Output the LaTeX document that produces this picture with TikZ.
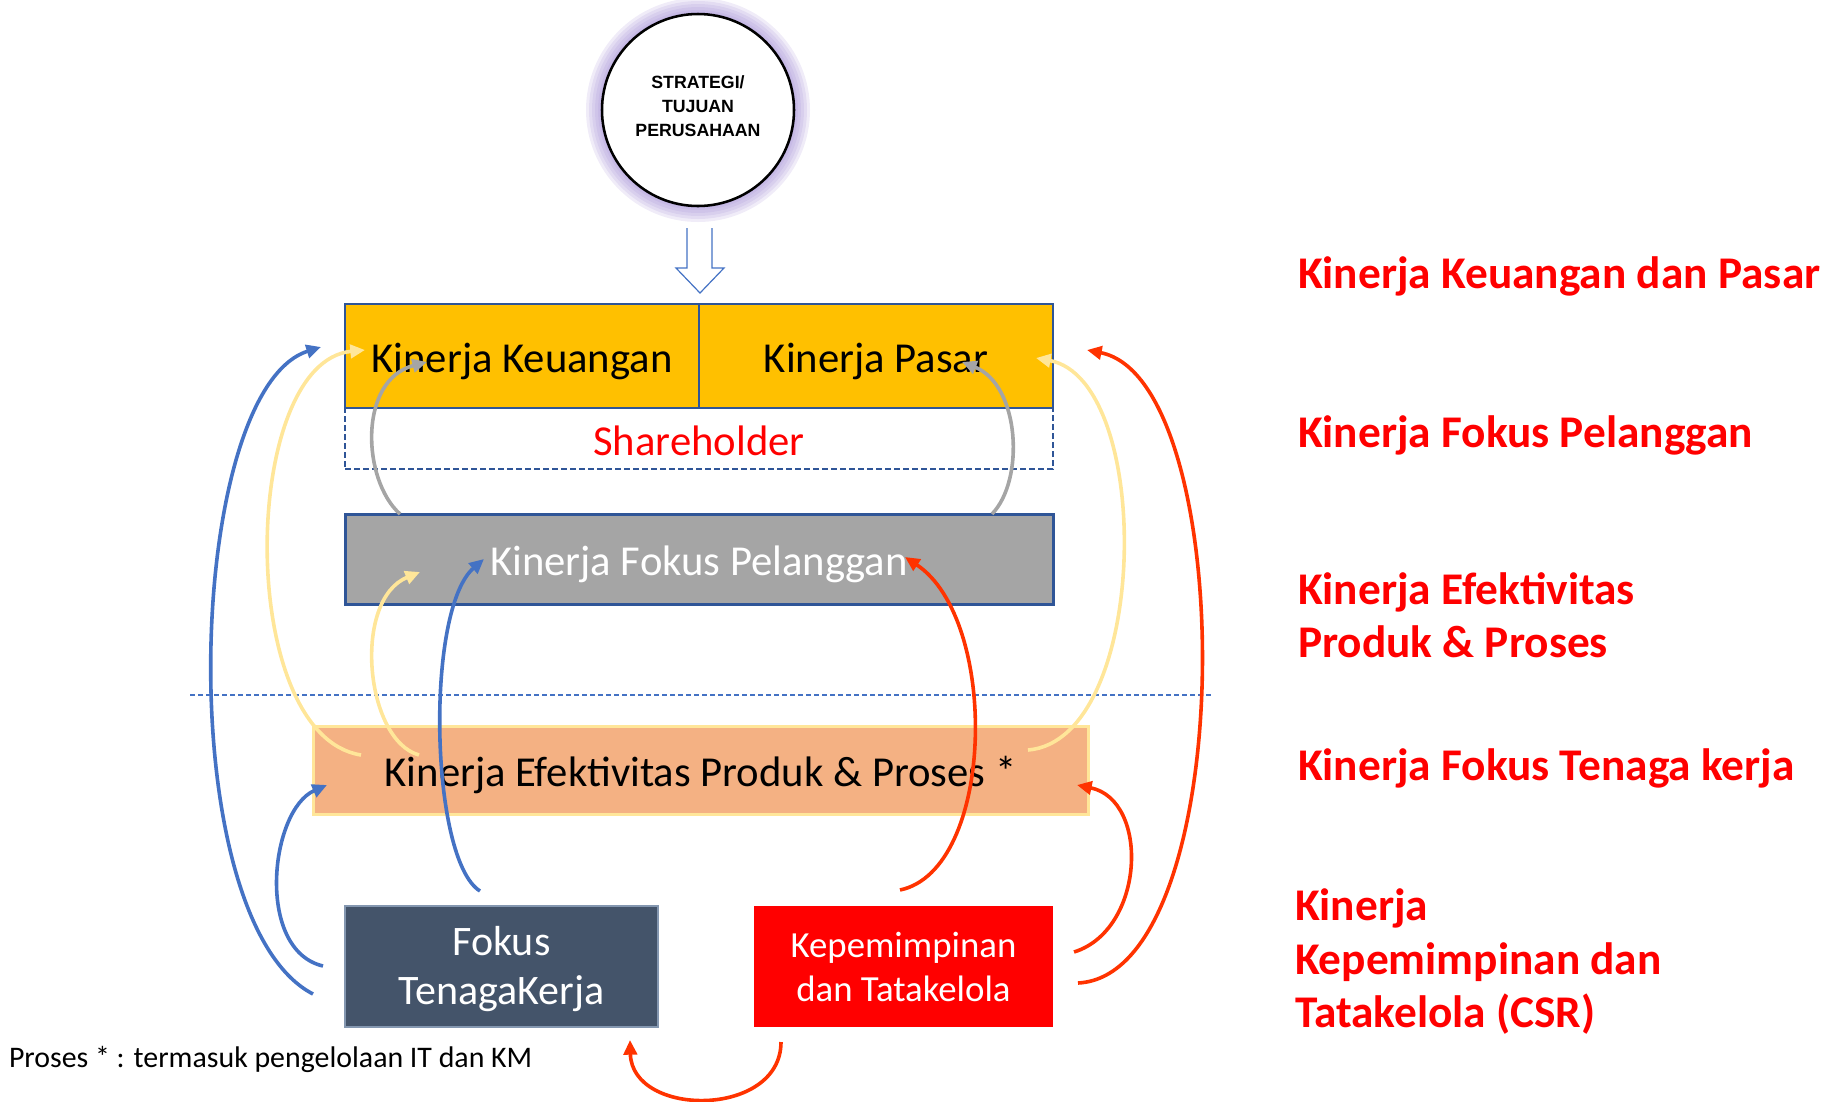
\documentclass[tikz,border=0pt]{standalone}
\usepackage{fontspec}
\setmainfont{Carlito}
\newfontfamily\arialf{Liberation Sans}
\usetikzlibrary{arrows.meta}
\definecolor{bblue}{HTML}{2F5597}
\definecolor{ablue}{HTML}{4472C4}
\definecolor{ayel}{HTML}{FFE699}
\definecolor{agray}{HTML}{A5A5A5}
\definecolor{ared}{HTML}{FF3300}
\definecolor{gold}{HTML}{FFC000}
\definecolor{orng}{HTML}{F4B183}
\definecolor{fokf}{HTML}{44546A}
\definecolor{fokb}{HTML}{8497B0}
\definecolor{glowc}{HTML}{A48FD6}
\definecolor{pured}{HTML}{FF0000}
\begin{document}
\begin{tikzpicture}[x=0.75pt,y=-0.75pt,
  every node/.style={inner sep=0pt, outer sep=0pt},
  bigtxt/.style={font=\fontsize{32}{38}\selectfont, text height=27.5pt, text depth=2.6pt},
  lab/.style={anchor=base west, text=pured, font=\bfseries\fontsize{34}{40}\selectfont},
  arr/.style={line width=2.7pt, -{Triangle[length=11pt,width=10pt]}},
  topbox/.style={draw=bblue, line width=1.5pt, fill=gold, minimum width=265.5pt, minimum height=78pt, bigtxt},
]
\useasboundingbox (0,0) rectangle (1829,1101);

% glow and circle
\foreach \r in {112,109,106,103,100,98}
  \fill[glowc, opacity=0.17] (698,110) circle[radius=\r];
\node[circle, draw=black, line width=1.9pt, fill=white, minimum size=144pt, align=center,
      text height=40.3pt, text depth=0pt,
      font=\arialf\bfseries\fontsize{13.3}{18.3}\selectfont] (st) at (698,110) {STRATEGI/\\TUJUAN\\PERUSAHAAN};

% hollow arrow
\draw[ablue, line width=0.9pt, fill=white] (687,228) -- (687,268) -- (676,268) -- (700,293) -- (724,268) -- (712,268) -- (712,228);

% boxes
\node[draw=bblue, dashed, dash pattern=on 4.5pt off 2.25pt, line width=1.5pt, minimum width=531pt, minimum height=45.75pt, text=pured, bigtxt] (sh) at (699,438.5) {Shareholder};
\node[topbox] (kk) at (522,356) {Kinerja Keuangan};
\node[topbox] (kp) at (876,356) {Kinerja Pasar};
\node[draw=bblue, line width=2.25pt, fill=agray, text=white, minimum width=531pt, minimum height=67.5pt, bigtxt] (fp) at (699,559) {Kinerja Fokus Pelanggan};

\coordinate (dl1) at (190,695);
\coordinate (dl2) at (1211,695);
\draw[ablue, line width=1pt, dash pattern=on 3.5pt off 2.5pt] (dl1) -- (dl2);

\node[draw=ayel, line width=2.25pt, fill=orng, minimum width=581.25pt, minimum height=66pt, bigtxt] (ep) at (700.5,770) {Kinerja Efektivitas Produk \& Proses *};
\node[draw=fokb, line width=1.5pt, fill=fokf, text=white, minimum width=234.75pt, minimum height=90.75pt, align=center,
      text height=60.5pt, text depth=4.2pt, font=\fontsize{31.5}{36.75}\selectfont] (ft) at (501.5,966.5) {Fokus\\TenagaKerja};
\node[fill=pured, text=white, minimum width=224.25pt, minimum height=90.75pt, align=center, font=\fontsize{27.6}{33}\selectfont] (kt) at (903.5,966.5) {Kepemimpinan\\dan Tatakelola};

% arrow end points
\coordinate (b1s) at (313,994);  \coordinate (b1e) at (321,347);
\coordinate (b2s) at (323,966);  \coordinate (b2e) at (327,785);
\coordinate (b3s) at (480,891);  \coordinate (b3e) at (484,559);
\coordinate (y1s) at (361,755);  \coordinate (y1e) at (365,350);
\coordinate (y2s) at (419,755);  \coordinate (y2e) at (420,572);
\coordinate (y3s) at (1028,750); \coordinate (y3e) at (1036,358);
\coordinate (g1s) at (400,514);  \coordinate (g1e) at (427,362);
\coordinate (g2s) at (992,514);  \coordinate (g2e) at (962,362);
\coordinate (r1s) at (900,890);  \coordinate (r1e) at (905,557);
\coordinate (r2s) at (1078,983); \coordinate (r2e) at (1087,350);
\coordinate (r3s) at (1074,952); \coordinate (r3e) at (1077,785);
\coordinate (r4s) at (781,1042); \coordinate (r4e) at (630,1040);

% arrows
\draw[arr, ablue] (b1s) .. controls (170,920) and (185,390) .. (b1e);
\draw[arr, ablue] (b2s) .. controls (255,950) and (270,810) .. (b2e);
\draw[arr, ablue] (b3s) .. controls (430,860) and (425,610) .. (b3e);
\draw[arr, ayel] (y1s) .. controls (235,735) and (240,362) .. (y1e);
\draw[arr, ayel] (y2s) .. controls (365,740) and (352,600) .. (y2e);
\draw[arr, ayel] (y3s) .. controls (1150,740) and (1155,380) .. (y3e);
\draw[arr, agray] (g1s) .. controls (362,480) and (358,380) .. (g1e);
\draw[arr, agray] (g2s) .. controls (1025,480) and (1020,385) .. (g2e);
\draw[arr, ared] (r1s) .. controls (995,870) and (1000,620) .. (r1e);
\draw[arr, ared] (r2s) .. controls (1240,975) and (1240,380) .. (r2e);
\draw[arr, ared] (r3s) .. controls (1145,930) and (1150,800) .. (r3e);
\draw[arr, ared] (r4s) .. controls (781,1118) and (632,1118) .. (r4e);

% footnote
\node[anchor=base west, font=\fontsize{22.4}{26}\selectfont] (fn) at (9,1067.5) {Proses * : termasuk pengelolaan IT dan KM};

% right labels
\node[lab] (l1) at (1298,288) {Kinerja Keuangan dan Pasar};
\node[lab] (l2) at (1298,447.5) {Kinerja Fokus Pelanggan};
\node[lab] (l3a) at (1298,604.5) {Kinerja Efektivitas};
\node[lab] (l3b) at (1298,657.5) {Produk \& Proses};
\node[lab] (l4) at (1298,780.5) {Kinerja Fokus Tenaga kerja};
\node[lab] (l5a) at (1295,920.5) {Kinerja};
\node[lab] (l5b) at (1295,974.5) {Kepemimpinan dan};
\node[lab] (l5c) at (1295,1027.5) {Tatakelola (CSR)};
\end{tikzpicture}
\end{document}
